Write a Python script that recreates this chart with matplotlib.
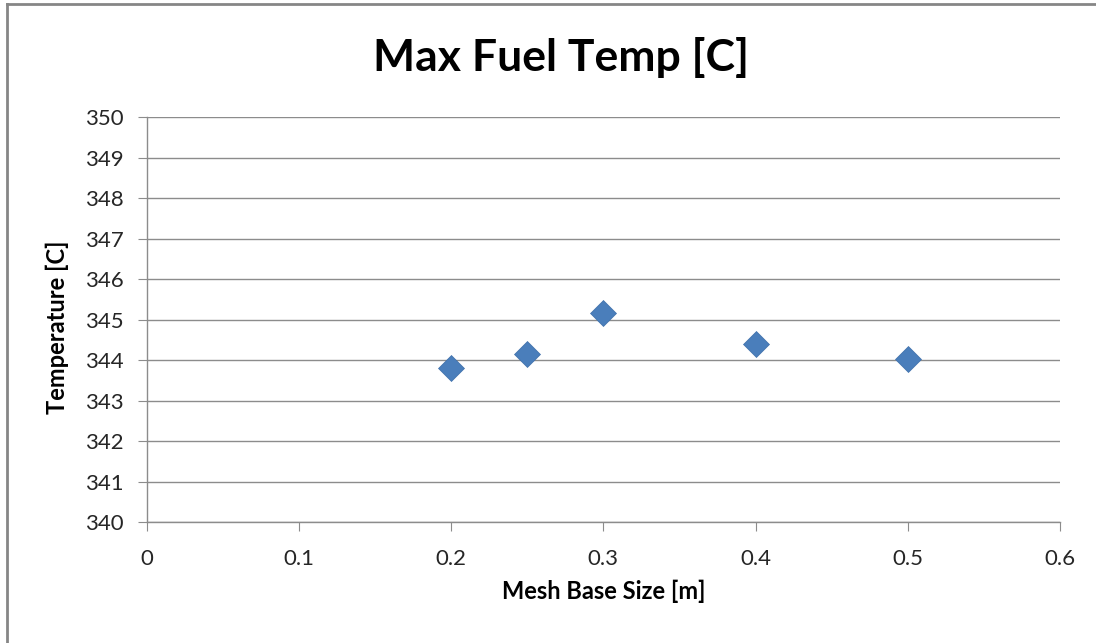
import matplotlib.pyplot as plt
from matplotlib.lines import Line2D

# Mesh study results
mesh_size = [0.2, 0.25, 0.3, 0.4, 0.5]
max_temp = [343.80, 344.15, 345.15, 344.40, 344.02]

x_ticks = [0, 0.1, 0.2, 0.3, 0.4, 0.5, 0.6]
y_ticks = [340, 341, 342, 343, 344, 345, 346, 347, 348, 349, 350]

plt.rcParams['font.family'] = ['Lato', 'DejaVu Sans']

fig = plt.figure(figsize=(10.96, 6.43), dpi=100)
ax = fig.add_axes([0.134, 0.188, 0.833, 0.630])

# Chart frame: only the left and top edges fall inside the image
fig.add_artist(Line2D([7 / 1096, 7 / 1096], [0, 1 - 4 / 643],
                      transform=fig.transFigure, color='#868686', linewidth=2))
fig.add_artist(Line2D([7 / 1096, 1], [1 - 4 / 643, 1 - 4 / 643],
                      transform=fig.transFigure, color='#868686', linewidth=2))

ax.plot(mesh_size, max_temp, 'D', color='#4A7EBB', markersize=13,
        markeredgecolor='#3E6FAA', markeredgewidth=0.5, zorder=3)

ax.set_xlim(0, 0.6)
ax.set_ylim(340, 350)
ax.set_xticks(x_ticks)
ax.set_xticklabels([f'{t:g}' for t in x_ticks])
ax.set_yticks(y_ticks)
ax.grid(axis='y', color='#8c8c8c', linewidth=1)
ax.set_axisbelow(True)

for side in ['top', 'right']:
    ax.spines[side].set_visible(False)
for side in ['left', 'bottom']:
    ax.spines[side].set_color('#8c8c8c')
    ax.spines[side].set_linewidth(1)

ax.tick_params(axis='both', colors='#8c8c8c', labelcolor='#262626',
               labelsize=16, length=6.5, direction='out')
ax.tick_params(axis='x', pad=13)
ax.tick_params(axis='y', pad=10)

fig.text(561 / 1096, 1 - 57 / 643, 'Max Fuel Temp [C]', fontsize=32,
         fontweight='bold', ha='center', va='center')
ax.set_xlabel('Mesh Base Size [m]', fontsize=17, fontweight='bold')
ax.set_ylabel('Temperature [C]', fontsize=17, fontweight='bold')
ax.xaxis.set_label_coords(0.5, (522 - 591) / 405)
ax.yaxis.set_label_coords((57 - 147) / 913, 0.48)
ax.xaxis.label.set_va('center')
ax.yaxis.label.set_va('center')

fig.savefig('out.png', dpi=100)
